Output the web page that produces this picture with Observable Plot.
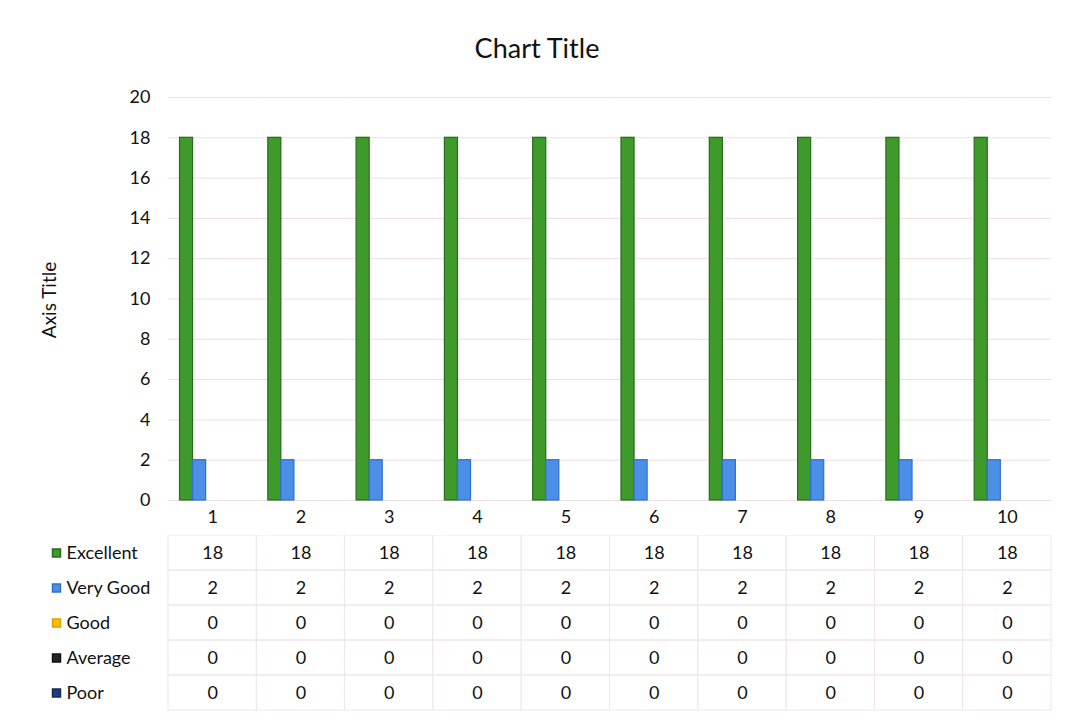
<!DOCTYPE html>
<html>
<head>
<meta charset="utf-8">
<script src="https://cdn.jsdelivr.net/npm/d3@7"></script>
<script src="https://cdn.jsdelivr.net/npm/@observablehq/plot@0.6"></script>
<style>
  html, body { margin: 0; padding: 0; background: #fff; }
  #wrap { position: relative; width: 1080px; height: 720px; overflow: hidden; font-family: Lato, "Open Sans", sans-serif; color: #111; }
  #wrap svg { display: block; }
  #title { position: absolute; top: 47px; left: 0; width: 1074px; text-align: center; transform: translateY(-50%); font-size: 27px; }
  #ytitle { position: absolute; left: 48px; top: 300px; transform: translate(-50%, -50%) rotate(-90deg); font-size: 19px; white-space: nowrap; }
</style>
</head>
<body>
<div id="wrap">
  <div id="title">Chart Title</div>
  <div id="ytitle">Axis Title</div>
  <div id="chart"></div>
  <div id="table"></div>
</div>
<script>
const categories = ["1", "2", "3", "4", "5", "6", "7", "8", "9", "10"];
const series = ["Excellent", "Very Good", "Good", "Average", "Poor"];
const excellent = [18, 18, 18, 18, 18, 18, 18, 18, 18, 18];
const veryGood = [2, 2, 2, 2, 2, 2, 2, 2, 2, 2];
const good = [0, 0, 0, 0, 0, 0, 0, 0, 0, 0];
const average = [0, 0, 0, 0, 0, 0, 0, 0, 0, 0];
const poor = [0, 0, 0, 0, 0, 0, 0, 0, 0, 0];
const yTicks = [0, 2, 4, 6, 8, 10, 12, 14, 16, 18, 20];

const fillColors = ["#3f9a2c", "#4b8fe6", "#ffc000", "#1e2a1e", "#1f3a78"];
const strokeColors = ["#2a6a1c", "#2f6fd0", "#d9a000", "#111111", "#142a5a"];

const valuesBySeries = [excellent, veryGood, good, average, poor];
const data = [];
series.forEach((s, si) => {
  categories.forEach((c, ci) => {
    data.push({cat: c, series: s, value: valuesBySeries[si][ci],
      fill: fillColors[si], stroke: strokeColors[si]});
  });
});

const chart = Plot.plot({
  width: 1080, height: 535,
  marginTop: 97, marginBottom: 35, marginLeft: 168, marginRight: 29,
  style: {fontFamily: "Lato, 'Open Sans', sans-serif", fontSize: "18px", color: "#111", background: "transparent"},
  fx: {domain: categories, padding: 0, round: false, label: null},
  x: {domain: series, paddingInner: 0, paddingOuter: 0.88, round: false, axis: null},
  y: {domain: [0, 20], label: null},
  color: {type: "identity"},
  marks: [
    Plot.gridY(yTicks, {stroke: "#efdde1", strokeOpacity: 1, strokeWidth: 1}),
    Plot.barY(data.filter(d => d.value > 0), {fx: "cat", x: "series", y: "value", fill: "fill", stroke: "stroke", strokeWidth: 1.2}),
    Plot.axisY({ticks: yTicks, tickSize: 0, tickPadding: 18, label: null, fontSize: 18}),
    Plot.axisFx({anchor: "bottom", tickSize: 0, tickPadding: 10, label: null, fontSize: 18})
  ]
});
document.getElementById("chart").appendChild(chart);

const table = Plot.plot({
  width: 1080, height: 185,
  marginTop: 0, marginBottom: 10, marginLeft: 168, marginRight: 29,
  style: {fontFamily: "Lato, 'Open Sans', sans-serif", fontSize: "18px", color: "#111", background: "transparent"},
  x: {domain: categories, padding: 0, round: false, axis: null},
  y: {domain: series, padding: 0, axis: null},
  color: {type: "identity"},
  marks: [
    Plot.cell(data, {x: "cat", y: "series", fill: "none", stroke: "#f2e6e8"}),
    Plot.text(data, {x: "cat", y: "series", text: d => String(d.value), fontSize: 18, fill: "#111"}),
    Plot.text(series, {y: d => d, text: d => d, frameAnchor: "left", dx: -102, textAnchor: "start", fontSize: 18, fill: "#111"}),
    Plot.dot(series, {y: d => d, frameAnchor: "left", dx: -112, symbol: "square", r: 4.5,
      fill: d => fillColors[series.indexOf(d)], stroke: d => strokeColors[series.indexOf(d)]})
  ]
});
document.getElementById("table").appendChild(table);
</script>
</body>
</html>
